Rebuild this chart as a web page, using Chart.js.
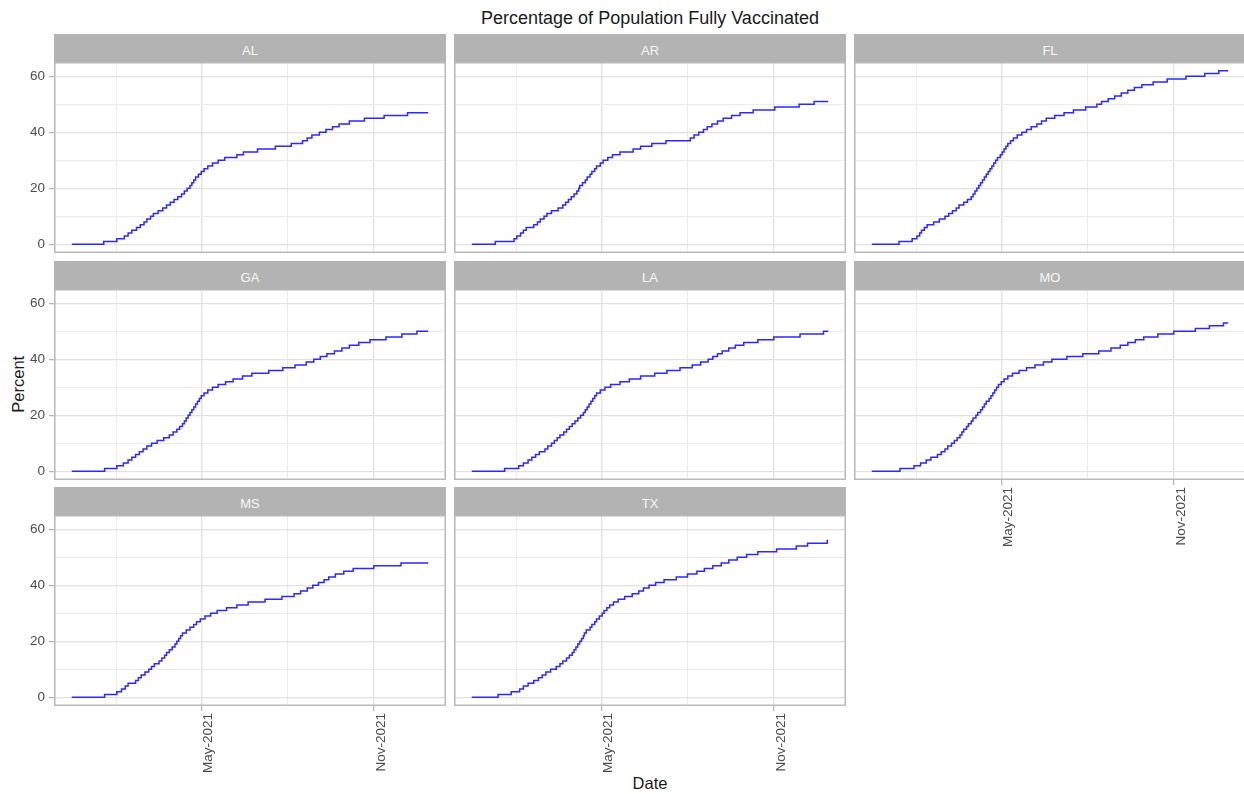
<!DOCTYPE html>
<html>
<head>
<meta charset="utf-8">
<title>Percentage of Population Fully Vaccinated</title>
<script src="https://cdn.jsdelivr.net/npm/chart.js@4/dist/chart.umd.min.js"></script>
<style>
  html, body { margin: 0; padding: 0; background: #ffffff; overflow: hidden; }
  #fig { position: relative; width: 1244px; height: 794px; overflow: hidden;
         font-family: "Liberation Sans", Arial, sans-serif; }
  .strip { position: absolute; height: 28px; background: #b3b3b3; color: #f7f7f7;
           font-size: 13px; line-height: 33px; text-align: center; overflow: visible; }
  canvas { position: absolute; }
  .label { position: absolute; white-space: nowrap; color: #1a1a1a; }
  #title { left: 150px; width: 1000px; top: 9px; text-align: center; font-size: 18px; line-height: 18px; }
  #xtitle { left: 550px; width: 200px; top: 775px; text-align: center; font-size: 16.5px; line-height: 16.5px; }
  #ytitle { left: -82px; width: 200px; top: 376px; text-align: center; font-size: 16.5px; line-height: 16.5px;
            transform: rotate(-90deg); transform-origin: 100px 8.25px; }
</style>
</head>
<body>
<div id="fig">
  <div class="label" id="title">Percentage of Population Fully Vaccinated</div>
  <div class="label" id="xtitle">Date</div>
  <div class="label" id="ytitle">Percent</div>
</div>
<script>
// Day 0 of the series is the first reporting day.
const START = Date.UTC(2020, 11, 14);
const MS_PER_DAY = 86400000;
const dayOf = (y, m, d) => (Date.UTC(y, m - 1, d) - START) / MS_PER_DAY;

const STATES = ['AL', 'AR', 'FL', 'GA', 'LA', 'MO', 'MS', 'TX'];
const LAST_DAY = 380;   // last reported day (2021-12-29)

// Day on which each whole percent was first reached: entry k is the day the
// share of fully vaccinated residents rose to k+1 %.
const AL = [34, 48, 56, 60, 64, 69, 73, 77, 80, 84, 87, 92, 97, 101, 105, 109, 113, 117, 120, 123,
            126, 128, 130, 132, 135, 138, 141, 145, 150, 156, 163, 176, 183, 198, 217, 234, 246, 251, 256, 264,
            271, 278, 285, 296, 312, 333, 358];
const AR = [25, 45, 48, 52, 55, 58, 66, 70, 73, 77, 80, 85, 92, 97, 100, 103, 106, 109, 112, 114,
            115, 118, 121, 123, 126, 128, 131, 133, 137, 140, 145, 150, 158, 172, 180, 192, 207, 233, 237, 242,
            247, 251, 256, 262, 268, 277, 286, 300, 323, 349, 365];
const FL = [29, 43, 48, 51, 53, 56, 59, 66, 72, 78, 82, 86, 90, 93, 98, 102, 106, 108, 110, 112,
            114, 116, 118, 120, 122, 124, 126, 128, 130, 132, 134, 137, 139, 141, 143, 145, 148, 151, 155, 160,
            165, 170, 176, 181, 186, 195, 205, 215, 228, 240, 245, 252, 259, 266, 273, 280, 288, 300, 315, 335,
            355, 370];
const GA = [35, 48, 55, 60, 64, 68, 72, 76, 80, 85, 91, 98, 104, 108, 112, 115, 118, 120, 122, 124,
            126, 128, 130, 132, 134, 136, 138, 141, 145, 150, 156, 164, 172, 182, 192, 210, 225, 238, 250, 258,
            265, 272, 280, 288, 296, 306, 318, 335, 352, 368];
const LA = [35, 50, 55, 60, 64, 68, 72, 78, 81, 85, 88, 91, 94, 98, 101, 104, 107, 110, 113, 116,
            119, 121, 123, 125, 127, 129, 131, 133, 137, 142, 148, 158, 168, 180, 195, 208, 222, 235, 244, 252,
            257, 262, 267, 274, 281, 290, 305, 322, 350, 375];
const MO = [30, 45, 52, 58, 63, 70, 74, 78, 81, 85, 88, 91, 94, 96, 98, 101, 103, 106, 108, 111,
            113, 116, 118, 120, 122, 125, 127, 129, 131, 133, 135, 138, 141, 145, 150, 157, 165, 174, 183, 192,
            208, 225, 242, 255, 265, 273, 281, 290, 305, 322, 345, 360, 375];
const MS = [35, 48, 53, 57, 60, 68, 71, 74, 78, 82, 85, 88, 93, 96, 99, 101, 104, 107, 110, 112,
            114, 116, 118, 122, 126, 130, 133, 137, 142, 148, 155, 165, 176, 188, 206, 224, 237, 244, 251, 257,
            263, 269, 274, 281, 290, 300, 322, 351];
const TX = [28, 42, 51, 55, 60, 66, 71, 75, 79, 84, 90, 94, 97, 101, 104, 107, 109, 111, 113, 115,
            117, 119, 120, 122, 126, 128, 131, 133, 136, 139, 141, 144, 147, 151, 156, 163, 171, 178, 183, 189,
            196, 205, 218, 230, 240, 248, 257, 266, 274, 283, 293, 305, 325, 346, 358, 379];
const STEP_DAYS = { AL, AR, FL, GA, LA, MO, MS, TX };

// Axis breaks
const X_BREAK_DATES = [[2020, 11, 1], [2021, 5, 1], [2021, 11, 1], [2022, 5, 1]];
const X_TICK_LABELS = ['Nov-2020', 'May-2021', 'Nov-2021', 'May-2022'];
const Y_TICKS = [0, 20, 40, 60];

// Panel geometry
const COL_X = [54, 454, 854];
const ROW_Y = [34, 261, 487];
const STRIP_H = 28, PANEL_W = 392, PANEL_H = 191;
const Y_AXIS_W = 54, X_AXIS_H = 80;

const FONT = '"Liberation Sans", Arial, sans-serif';
const GRID_MAJOR = '#e1e1e1', GRID_MINOR = '#ebebeb', TICK_COL = '#b3b3b3';
const LINE_COL = '#2a2aff';

// Shared scale limits (data range plus 5 % on each side)
const allDays = STATES.map(s => STEP_DAYS[s]);
const xLo = 0, xHi = LAST_DAY;
const yLo = 0, yHi = Math.max(...allDays.map(a => a.length));
const X_MIN = xLo - 0.05 * (xHi - xLo), X_MAX = xHi + 0.05 * (xHi - xLo);
const Y_MIN = yLo - 0.05 * (yHi - yLo), Y_MAX = yHi + 0.05 * (yHi - yLo);

const xMajor = X_BREAK_DATES.map(d => dayOf(d[0], d[1], d[2]));
const xMinor = xMajor.slice(1).map((v, i) => (v + xMajor[i]) / 2);
const xGrid = [...xMajor, ...xMinor].filter(v => v >= X_MIN && v <= X_MAX).sort((a, b) => a - b);
const yMinor = Y_TICKS.slice(1).map((v, i) => (v + Y_TICKS[i]) / 2);
const yGrid = [...Y_TICKS, ...yMinor].sort((a, b) => a - b);

const isMajorX = v => xMajor.some(m => Math.abs(m - v) < 1e-6);
const isMajorY = v => Y_TICKS.includes(v);
const xLabel = v => { const i = xMajor.findIndex(m => Math.abs(m - v) < 1e-6); return i >= 0 ? X_TICK_LABELS[i] : ''; };

const panelBorder = {
  id: 'panelBorder',
  afterDraw(chart) {
    const { ctx, chartArea: a } = chart;
    ctx.save();
    ctx.strokeStyle = '#b8b8b8';
    ctx.lineWidth = 1.5;
    ctx.strokeRect(a.left + 0.75, a.top + 0.75, a.right - a.left - 1.5, a.bottom - a.top - 1.5);
    ctx.restore();
  }
};

const fig = document.getElementById('fig');

STATES.forEach((state, i) => {
  const col = i % 3, row = Math.floor(i / 3);
  const showY = col === 0;
  const showX = i + 3 >= STATES.length;
  const px = COL_X[col], py = ROW_Y[row];

  const strip = document.createElement('div');
  strip.className = 'strip';
  strip.style.left = px + 'px';
  strip.style.top = py + 'px';
  strip.style.width = PANEL_W + 'px';
  strip.textContent = state;
  fig.appendChild(strip);

  const cv = document.createElement('canvas');
  const w = PANEL_W + (showY ? Y_AXIS_W : 0);
  const h = PANEL_H + (showX ? X_AXIS_H : 0);
  cv.width = w; cv.height = h;
  cv.style.width = w + 'px'; cv.style.height = h + 'px';
  cv.style.left = (px - (showY ? Y_AXIS_W : 0)) + 'px';
  cv.style.top = (py + STRIP_H) + 'px';
  fig.appendChild(cv);

  const days = STEP_DAYS[state];
  const points = [{ x: 0, y: 0 }, ...days.map((d, k) => ({ x: d, y: k + 1 })), { x: LAST_DAY, y: days.length }];

  new Chart(cv, {
    type: 'line',
    data: {
      datasets: [{
        label: state,
        data: points,
        borderColor: LINE_COL,
        borderWidth: 1.5,
        pointRadius: 0,
        stepped: 'before',
        fill: false,
        tension: 0
      }]
    },
    options: {
      responsive: false,
      animation: false,
      devicePixelRatio: 1,
      events: [],
      layout: { padding: 0, autoPadding: false },
      plugins: { legend: { display: false }, tooltip: { enabled: false }, title: { display: false } },
      scales: {
        x: {
          type: 'linear', position: 'bottom', min: X_MIN, max: X_MAX,
          afterBuildTicks: s => { s.ticks = xGrid.map(v => ({ value: v })); },
          afterFit: s => { s.height = showX ? X_AXIS_H : 0; s.paddingLeft = 0; s.paddingRight = 0; },
          ticks: {
            display: showX, autoSkip: false, minRotation: 90, maxRotation: 90,
            padding: 2, labelOffset: 7, color: '#4d4d4d',
            font: { family: FONT, size: 13.5 },
            callback: v => xLabel(v)
          },
          grid: {
            drawOnChartArea: true, drawTicks: showX, tickLength: 5,
            color: c => isMajorX(c.tick.value) ? GRID_MAJOR : GRID_MINOR,
            lineWidth: c => isMajorX(c.tick.value) ? 1.3 : 1,
            tickColor: c => isMajorX(c.tick.value) ? TICK_COL : 'rgba(0,0,0,0)',
            tickWidth: 1.2
          },
          border: { display: false }
        },
        y: {
          type: 'linear', position: 'left', min: Y_MIN, max: Y_MAX,
          afterBuildTicks: s => { s.ticks = yGrid.map(v => ({ value: v })); },
          afterFit: s => { s.width = showY ? Y_AXIS_W : 0; s.paddingTop = 0; s.paddingBottom = 0; },
          ticks: {
            display: showY, autoSkip: false, padding: 4, color: '#4d4d4d',
            font: { family: FONT, size: 13.5 },
            callback: v => isMajorY(v) ? String(v) : ''
          },
          grid: {
            drawOnChartArea: true, drawTicks: showY, tickLength: 5,
            color: c => isMajorY(c.tick.value) ? GRID_MAJOR : GRID_MINOR,
            lineWidth: c => isMajorY(c.tick.value) ? 1.3 : 1,
            tickColor: c => isMajorY(c.tick.value) ? TICK_COL : 'rgba(0,0,0,0)',
            tickWidth: 1.2
          },
          border: { display: false }
        }
      }
    },
    plugins: [panelBorder]
  });
});
</script>
</body>
</html>
